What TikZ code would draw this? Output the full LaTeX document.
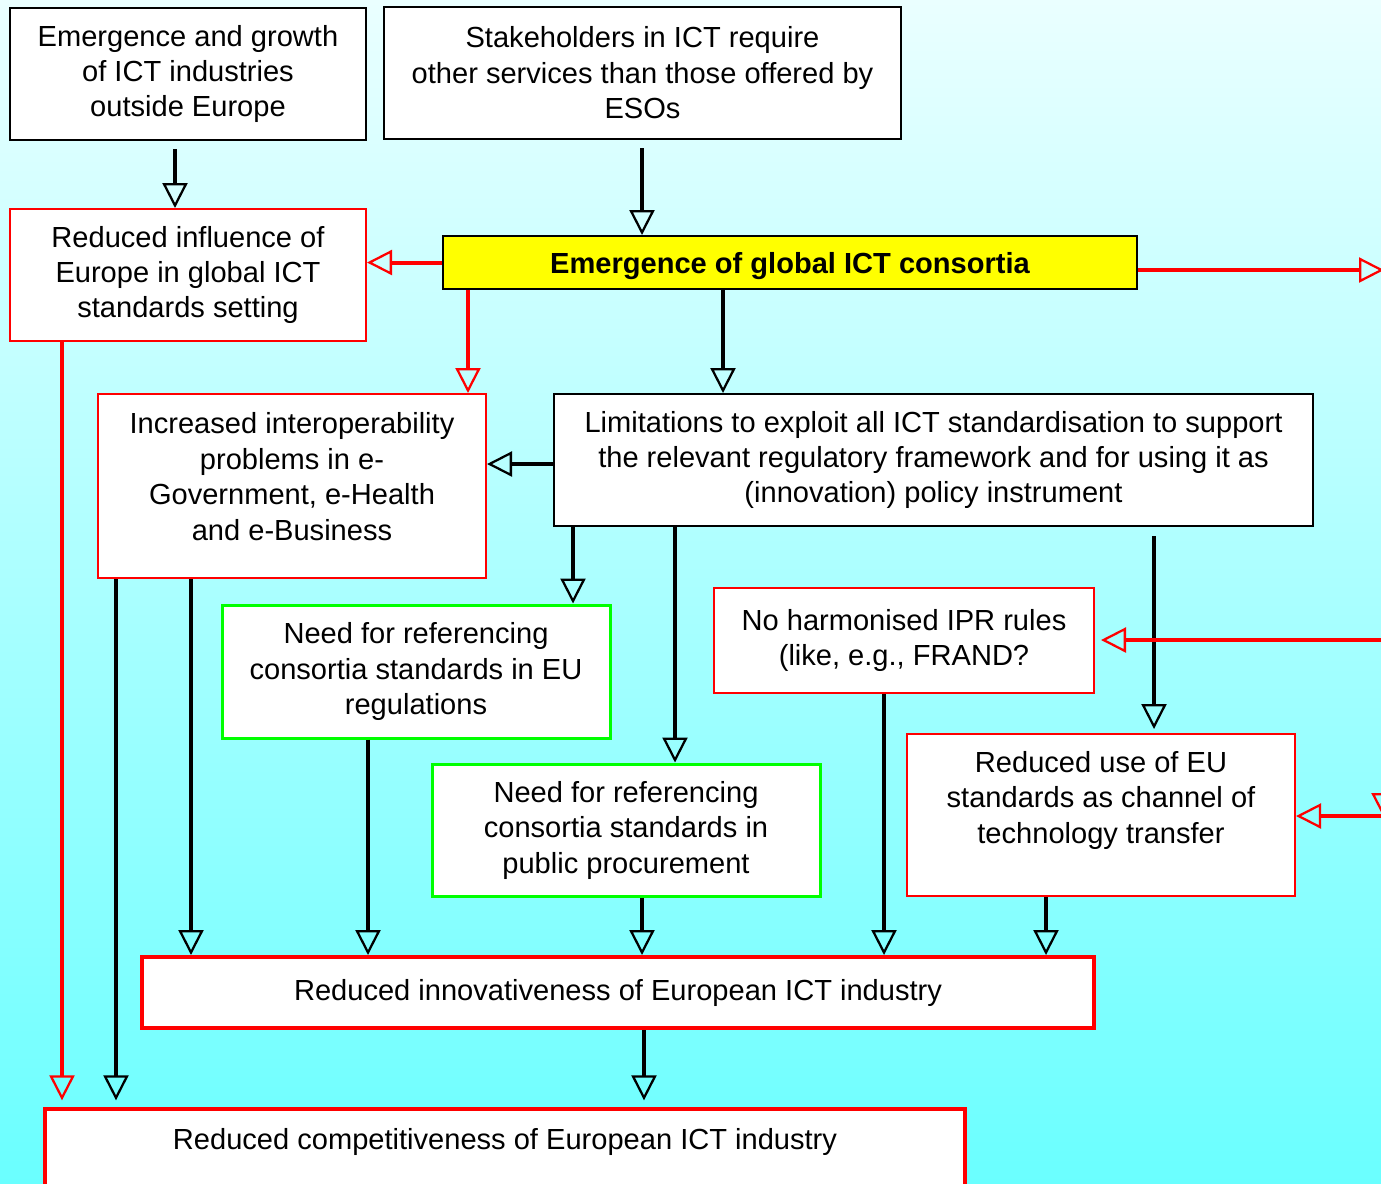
\documentclass[tikz,border=0pt]{standalone}
\usepackage{fontspec}
\setmainfont{Liberation Sans}
\usepackage{xcolor}
\definecolor{BgTop}{RGB}{234,255,255}
\definecolor{BgMid}{RGB}{190,255,255}
\definecolor{BgBottom}{RGB}{106,255,255}
\definecolor{CauseRed}{RGB}{255,0,0}
\definecolor{NeedGreen}{RGB}{0,255,0}
\definecolor{ConsYellow}{RGB}{255,255,0}
\usepackage{tikz}
\usetikzlibrary{
  arrows.meta,
  calc
}
\newcommand{\boxfont}{\fontsize{21.8}{26.6}\selectfont}
\tikzset{
  % Plain box
  plainbox/.style={
    rectangle,
    draw=black,
    line width=1.5pt,
    fill=white,
    align=center,
    inner sep=4pt,
    font=\boxfont
  },
  % Box with red frame
  redbox/.style={plainbox, draw=CauseRed},
  % Box with green frame
  greenbox/.style={plainbox, draw=NeedGreen, line width=2.25pt},
  % Heavy red box (outcomes)
  heavybox/.style={plainbox, draw=CauseRed, line width=3pt},
  % Central box
  consbox/.style={plainbox, fill=ConsYellow, font=\boxfont\bfseries},
  % Black arrow
  barrow/.style={
    draw=black,
    line width=3pt,
    -{Triangle[open, length=18.75pt, width=18.75pt, line width=1.7pt]}
  },
  % Red arrow
  rarrow/.style={barrow, draw=CauseRed}
}

\begin{document}
\begin{tikzpicture}[x=0.75pt, y=-0.75pt]
  \useasboundingbox (0,0) rectangle (1381,1183);
  \clip (0,0) rectangle (1381,1183);
  \shade[top color=BgTop, middle color=BgMid, bottom color=BgBottom] (0,0) rectangle (1381,1183);

  \node[plainbox, minimum width=267pt, minimum height=99pt] (growth) at (188,74)
    {Emergence and growth\\of ICT industries\\outside Europe};
  \node[plainbox, minimum width=387.75pt, minimum height=99pt] (stake) at (642.5,73)
    {Stakeholders in ICT require\\other services than those offered by\\ESOs};
  \node[redbox, minimum width=267pt, minimum height=99pt] (influence) at (188,275)
    {Reduced influence of\\Europe in global ICT\\standards setting};
  \node[consbox, minimum width=520.5pt, minimum height=39.75pt, text depth=0pt] (consortia) at (790,262.5)
    {Emergence of global ICT consortia};
  \node[redbox, minimum width=291pt, minimum height=138pt] (interop) at (292,486)
    {Increased interoperability\\problems in e-\\Government, e-Health\\and e-Business\\[-12pt]~};
  \node[plainbox, minimum width=569.25pt, minimum height=99pt] (limits) at (933.5,460)
    {Limitations to exploit all ICT standardisation to support\\the relevant regulatory framework and for using it as\\(innovation) policy instrument};
  \node[greenbox, minimum width=291pt, minimum height=99.75pt] (needreg) at (416,671.5)
    {Need for referencing\\consortia standards in EU\\regulations};
  \node[redbox, minimum width=285pt, minimum height=78.75pt] (ipr) at (904,640.5)
    {No harmonised IPR rules\\(like, e.g., FRAND?};
  \node[greenbox, minimum width=291pt, minimum height=99pt] (needproc) at (626,830)
    {Need for referencing\\consortia standards in\\public procurement};
  \node[redbox, minimum width=291pt, minimum height=121.5pt] (transfer) at (1101,815)
    {Reduced use of EU\\standards as channel of\\technology transfer\\~};
  \node[heavybox, minimum width=714pt, minimum height=53.25pt] (innov) at (618,992.5)
    {Reduced innovativeness of European ICT industry};
  \node[heavybox, minimum width=690pt, anchor=north, text height=26pt, text depth=150pt] (compet) at (505,1107)
    {Reduced competitiveness of European ICT industry};

  % Links leaving the picture on the right
  \coordinate (rimD) at (1384,270);
  \coordinate (rimH) at (1384,640);
  \coordinate (rimJ) at (1384,816);
  \coordinate (rimTop) at (1384,700);
  \coordinate (rimBottom) at (1384,818);

  \draw[barrow, shorten <=6pt] (growth.south -| 175,0) -- (influence.north -| 175,0);
  \draw[barrow, shorten <=6pt] (stake.south -| 642,0) -- (consortia.north -| 642,0);
  \draw[rarrow] (consortia.west) -- (influence.east |- consortia.west);
  \draw[rarrow] (consortia.east |- rimD) -- (rimD);
  \draw[rarrow] (consortia.south -| 468,0) -- (interop.north -| 468,0);
  \draw[barrow] (consortia.south -| 723,0) -- (limits.north -| 723,0);
  \draw[barrow] (limits.west |- 0,464) -- (interop.east |- 0,464);
  \draw[barrow] (limits.south -| 573,0) -- (needreg.north -| 573,0);
  \draw[barrow] (limits.south -| 675,0) -- (needproc.north -| 675,0);
  \draw[barrow, shorten <=7pt, shorten >=3pt] (limits.south -| 1154,0) -- (transfer.north -| 1154,0);
  \draw[rarrow, shorten >=4.5pt] (rimH) -- (ipr.east |- rimH);
  \draw[rarrow] (rimJ) -- (transfer.east |- rimJ);
  \draw[rarrow] (rimTop) -- (rimBottom);

  \draw[rarrow, shorten >=5pt] (influence.south -| 62,0) -- (compet.north -| 62,0);
  \draw[barrow, shorten >=5pt] (interop.south -| 116,0) -- (compet.north -| 116,0);
  \draw[barrow] (interop.south -| 191,0) -- (innov.north -| 191,0);
  \draw[barrow] (needreg.south -| 368,0) -- (innov.north -| 368,0);
  \draw[barrow] (needproc.south -| 642,0) -- (innov.north -| 642,0);
  \draw[barrow] (ipr.south -| 884,0) -- (innov.north -| 884,0);
  \draw[barrow] (transfer.south -| 1046,0) -- (innov.north -| 1046,0);
  \draw[barrow, shorten >=5pt] (innov.south -| 644,0) -- (compet.north -| 644,0);
\end{tikzpicture}
\end{document}
